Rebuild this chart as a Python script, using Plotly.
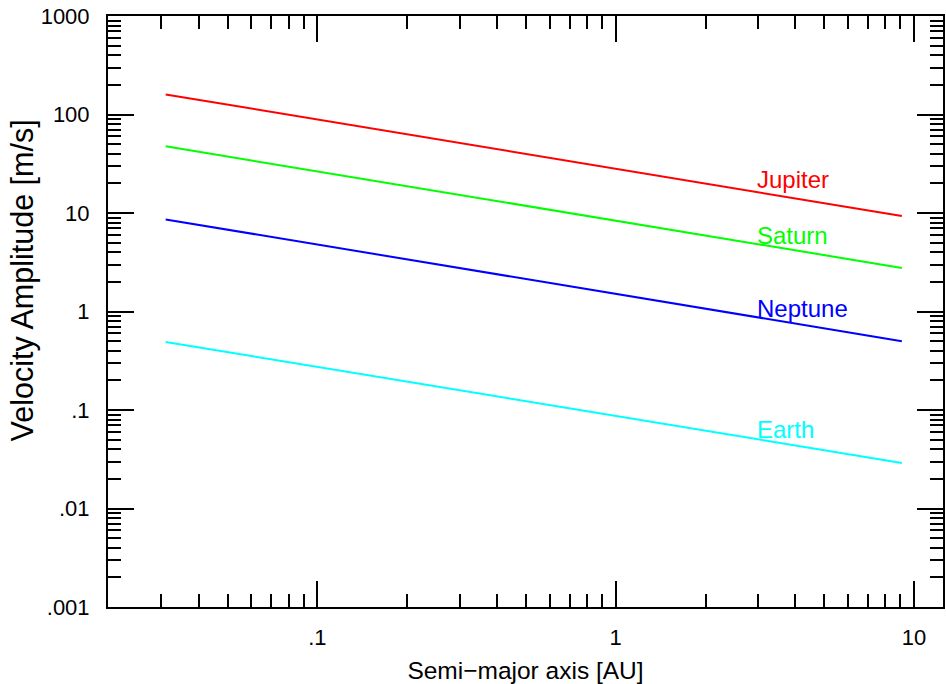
import math
import plotly.graph_objects as go

# Semi-major axis range covered by each curve [AU]
semi_major_axis = [0.031, 9.1]

# Stellar reflex velocity amplitude [m/s] at the two ends of each curve
planets = ["Jupiter", "Saturn", "Neptune", "Earth"]
k_jupiter = [160.0, 9.3]
k_saturn = [47.5, 2.77]
k_neptune = [8.6, 0.50]
k_earth = [0.49, 0.029]
colors = ["#ff0000", "#00ff00", "#0000ff", "#00ffff"]

# Where the planet names are written (data units)
label_x = [2.93, 2.93, 2.93, 2.93]
label_y = [22.0, 5.94, 1.07, 0.063]

x_tickvals = [0.1, 1, 10]
x_ticktext = [".1", "1", "10"]
y_tickvals = [0.001, 0.01, 0.1, 1, 10, 100, 1000]
y_ticktext = [".001", ".01", ".1", "1", "10", "100", "1000"]

FONT = "Liberation Sans, Arial, Helvetica, sans-serif"

fig = go.Figure()
for name, k, c in zip(planets, [k_jupiter, k_saturn, k_neptune, k_earth], colors):
    fig.add_trace(go.Scatter(x=semi_major_axis, y=k, mode="lines",
                             line=dict(color=c, width=2), name=name,
                             showlegend=False, hoverinfo="skip"))

# annotations on log axes take log10 coordinates
for name, lx, ly, c in zip(planets, label_x, label_y, colors):
    fig.add_annotation(x=math.log10(lx), y=math.log10(ly), xref="x", yref="y",
                       text=name, showarrow=False,
                       xanchor="left", yanchor="middle",
                       font=dict(family=FONT, size=24, color=c))

# vertical axis title, written as a rotated annotation
fig.add_annotation(x=-0.1027, y=0.553, xref="paper", yref="paper",
                   text="Velocity Amplitude [m/s]", textangle=-90,
                   showarrow=False, xanchor="center", yanchor="middle",
                   font=dict(family=FONT, size=30.5, color="black"))

axis_common = dict(
    type="log", showgrid=False, zeroline=False,
    showline=True, linecolor="black", linewidth=2, mirror="ticks",
    ticks="inside", ticklen=26, tickwidth=2, tickcolor="black",
    tickfont=dict(family=FONT, size=22, color="black"),
    minor=dict(ticks="inside", ticklen=13, tickwidth=2, tickcolor="black",
               dtick="D1", showgrid=False),
)

fig.update_xaxes(**axis_common, range=[-1.702, 1.097],
                 tickmode="array", tickvals=x_tickvals, ticktext=x_ticktext,
                 ticklabelstandoff=10,
                 title=dict(text="Semi\u2212major axis [AU]", standoff=14,
                            font=dict(family=FONT, size=24.5, color="black")))
fig.update_yaxes(**axis_common, range=[-3, 3],
                 tickmode="array", tickvals=y_tickvals, ticktext=y_ticktext,
                 ticklabelstandoff=12)

fig.update_layout(
    width=946, height=684,
    margin=dict(l=108, r=1, t=16, b=77),
    paper_bgcolor="white", plot_bgcolor="white",
)

fig.write_html("out.html")
